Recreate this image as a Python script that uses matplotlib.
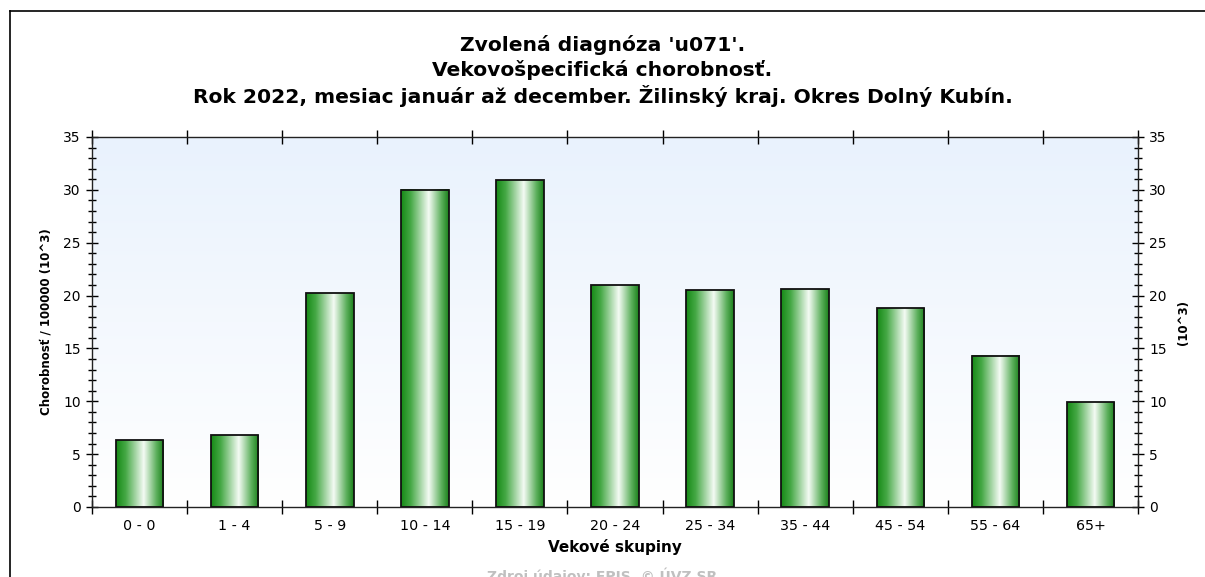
import numpy as np
import matplotlib
matplotlib.use("Agg")
import matplotlib.pyplot as plt
from matplotlib.colors import LinearSegmentedColormap
from matplotlib.lines import Line2D
from matplotlib.ticker import MultipleLocator

categories = ["0 - 0", "1 - 4", "5 - 9", "10 - 14", "15 - 19", "20 - 24",
              "25 - 34", "35 - 44", "45 - 54", "55 - 64", "65+"]
values = [6.3, 6.8, 20.2, 30.0, 30.9, 21.0, 20.5, 20.6, 18.8, 14.3, 9.9]

title_lines = ["Zvolená diagnóza 'u071'.",
               "Vekovošpecifická chorobnosť.",
               "Rok 2022, mesiac január až december. Žilinský kraj. Okres Dolný Kubín."]

plt.rcParams['font.family'] = ['DejaVu Sans']

fig = plt.figure(figsize=(12.05, 5.77), dpi=100)
fig.patch.set_facecolor('white')
ax = fig.add_axes([92/1205, 1-507/577, (1138-92)/1205, (507-137)/577])

x = np.arange(len(categories))
ax.set_xlim(-0.5, len(categories)-0.5)
ax.set_ylim(0, 35)

# background gradient
bg = LinearSegmentedColormap.from_list("bg", ["#ffffff", "#e9f2fd"])
grad = np.linspace(0, 1, 256).reshape(-1, 1)
ax.imshow(grad, aspect='auto', cmap=bg, origin='lower',
          extent=[-0.5, len(categories)-0.5, 0, 35], zorder=0)

bars = ax.bar(x, values, width=0.5, facecolor='none', edgecolor='#111111',
              linewidth=1.3, zorder=3)
barcm = LinearSegmentedColormap.from_list(
    "bar", [(0, "#158a15"), (0.2, "#45a845"), (0.58, "#f4fbf4"), (0.85, "#5aae5a"), (1, "#1a801a")])
hgrad = np.linspace(0, 1, 256).reshape(1, -1)
for b in bars:
    x0, y0 = b.get_x(), b.get_y()
    w, h = b.get_width(), b.get_height()
    ax.imshow(hgrad, aspect='auto', cmap=barcm,
              extent=[x0, x0+w, y0, y0+h], zorder=2)
ax.set_xlim(-0.5, len(categories)-0.5)
ax.set_ylim(0, 35)

# ticks
ax.set_xticks(np.arange(len(categories)+1) - 0.5)
ax.set_xticklabels([])
ax.set_xticks(x, minor=True)
ax.set_xticklabels(categories, minor=True, fontsize=10.3)
ax.tick_params(axis='x', which='major', direction='inout', length=10, width=1,
               top=True, bottom=True)
ax.tick_params(axis='x', which='minor', length=0, pad=9)
ax.yaxis.set_major_locator(MultipleLocator(5))
ax.yaxis.set_minor_locator(MultipleLocator(1))
ax.tick_params(axis='y', which='major', direction='inout', length=9, width=1,
               left=True, right=True, labelleft=True, labelright=True, labelsize=10)
ax.tick_params(axis='y', which='minor', direction='inout', length=6, width=1,
               left=True, right=True)
for s in ax.spines.values():
    s.set_linewidth(1)
    s.set_color('#222222')

ax.set_xlabel("Vekové skupiny", fontsize=11, fontweight='bold', labelpad=4)
ax.set_ylabel("Chorobnosť / 100000 (10^3)", fontsize=8.5, fontweight='bold', labelpad=8)
ax2 = ax.secondary_yaxis('right')
ax2.set_yticks([])
ax2.spines['right'].set_visible(False)
ax2.set_ylabel("(10^3)", fontsize=8.5, fontweight='bold', labelpad=28, rotation=90)

for i, line in enumerate(title_lines):
    fig.text(0.5, 1-(45+i*25.5)/577, line, ha='center', va='center',
             fontsize=14.6, fontweight='bold')

fig.text(0.5, 1-576/577, "Zdroj údajov: EPIS, © ÚVZ SR", ha='center', va='center',
         fontsize=10, fontweight='bold', color='#c0c0c0')

# outer frame
fig.add_artist(Line2D([10/1205, 10/1205], [0, 1-11/577], transform=fig.transFigure,
                      color='black', linewidth=1.2))
fig.add_artist(Line2D([10/1205, 1], [1-11/577, 1-11/577], transform=fig.transFigure,
                      color='black', linewidth=1.2))

fig.savefig("out.png", dpi=100)
